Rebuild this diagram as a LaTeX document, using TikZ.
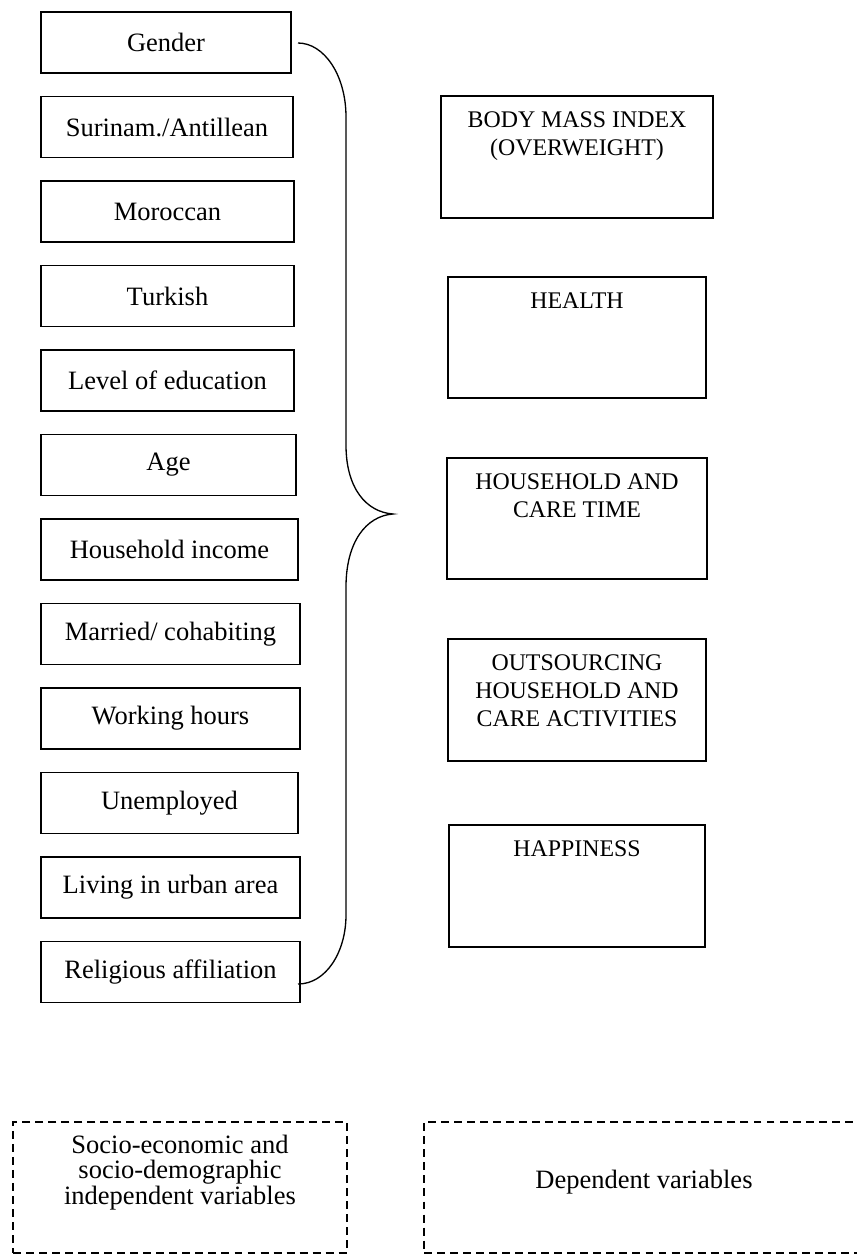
\documentclass[tikz,border=0pt]{standalone}
\usepackage{fontspec}
\setmainfont{Liberation Serif}
\usetikzlibrary{positioning}

\begin{document}
\begin{tikzpicture}[x=0.4528pt,y=-0.4528pt,%
        font=\fontsize{12}{13}\selectfont,%
        ivar/.style={rectangle, draw, line width=0.7pt,%
                        inner sep=0pt, minimum height=61*0.4528pt},%
        dvar/.style={rectangle, draw, line width=0.7pt, inner sep=0pt},%
        dtext/.style={align=center, inner sep=0pt,%
                        font=\fontsize{10.8}{12.7}\selectfont},%
        legend/.style={rectangle, draw, line width=0.7pt,%
                        dash pattern=on 3.6pt off 2.3pt,%
                        inner sep=0pt, minimum height=131*0.4528pt}]
\useasboundingbox (0,0) rectangle (857,1255);
% independent variables
\foreach \i/\nm/\r/\txt in {0/gender/291/Gender,
        1/surinam/293/{Surinam./Antillean},
        2/moroccan/294/Moroccan,
        3/turkish/294/Turkish,
        4/educ/294/{Level of education},
        5/age/296/Age,
        6/income/298/{Household income},
        7/married/300/{Married/ cohabiting},
        8/hours/300/{Working hours},
        9/unempl/298/Unemployed,
        10/urban/300/{Living in urban area},
        11/relig/300/{Religious affiliation}}
    \node (\nm) [ivar, minimum width={(\r-41)*0.4528pt}]
        at ({(41+\r)/2},{42.5+84.5*\i}) {\txt};
% dependent variables
\foreach \nm/\xa/\ya/\xb/\yb/\txt in {bmi/441/96/713/218/{BODY MASS INDEX\\(OVERWEIGHT)},
        health/448/277/706/398/HEALTH,
        care/447/458/707/579/{HOUSEHOLD AND\\CARE TIME},
        outs/448/639/706/761/{OUTSOURCING\\HOUSEHOLD AND\\CARE ACTIVITIES},
        happy/449/825/705/947/HAPPINESS} {
    \node (\nm) [dvar, minimum width={(\xb-\xa)*0.4528pt},
        minimum height={(\yb-\ya)*0.4528pt}] at ({(\xa+\xb)/2},{(\ya+\yb)/2}) {};
    \node (\nm-t) [dtext, below=7.3pt of \nm.north] {\txt};
}
% the brace
\coordinate (brtop) at (298,43);
\coordinate (brtip) at (393,514);
\coordinate (brbot) at (298,984);
\draw[line width=0.6pt] (brtop) .. controls (324,43) and (346,75) .. (346,117)
    -- (346,445) .. controls (346,488) and (366,512) .. (brtip)
    .. controls (366,516) and (346,542) .. (346,587)
    -- (346,915) .. controls (346,952) and (326,984) .. (brbot);
% legend
\node (indleg) [legend, minimum width=334*0.4528pt] at (180,1187.5) {};
\node (indleg-t) [align=center, inner sep=0pt, font=\fontsize{12}{11.7}\selectfont]
    at (180,1172.5) {Socio-economic and\\socio-demographic\\independent variables};
\node (depleg) [legend, minimum width=442*0.4528pt] at (645,1187.5) {};
\node (depleg-t) [inner sep=0pt] at (644,1182) {Dependent variables};
\end{tikzpicture}
\end{document}
